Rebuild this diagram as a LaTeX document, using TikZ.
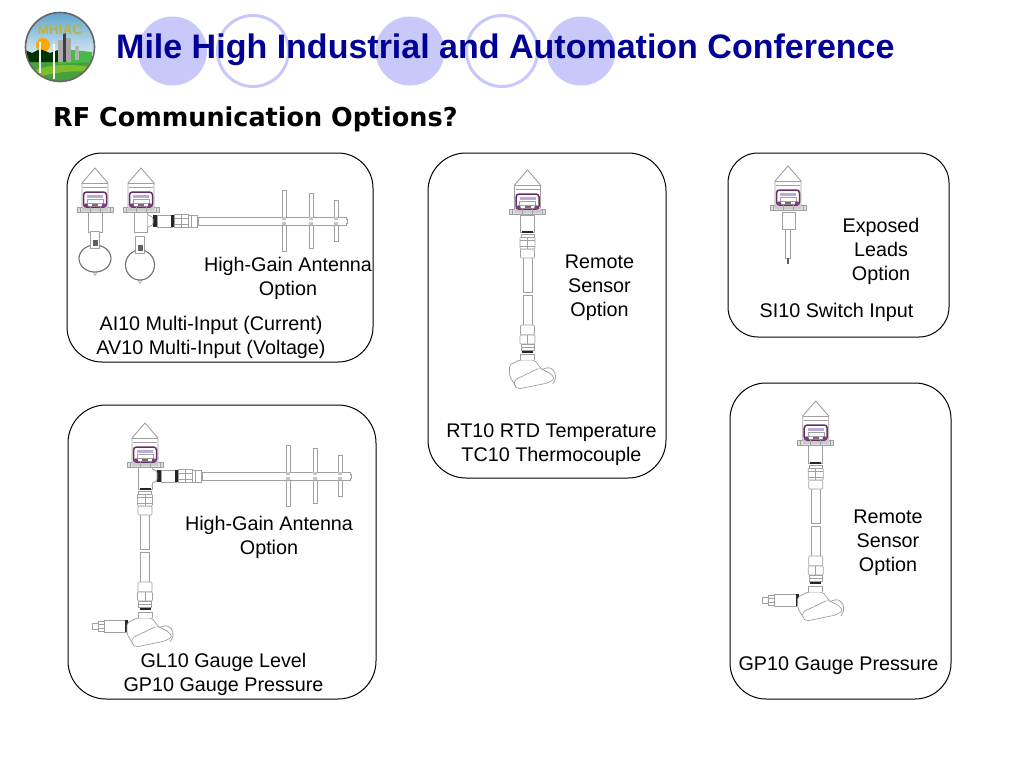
\documentclass[tikz,border=0pt]{standalone}
\usepackage{fontspec}
\setmainfont{Liberation Sans}
\newfontfamily\subfont[FakeStretch=0.98]{DejaVu Sans}
\usetikzlibrary{calc}
\definecolor{lav}{RGB}{200,200,250}
\definecolor{titleblue}{RGB}{0,0,150}
\definecolor{eq}{RGB}{160,160,160}
\definecolor{pur}{RGB}{125,60,125}
\definecolor{sky}{RGB}{95,165,205}
\definecolor{lawn}{RGB}{70,160,60}
\definecolor{gold}{RGB}{185,180,60}
\tikzset{
  x=1pt,y=-1pt,
  panel/.style={draw=black,line width=1pt,fill=white},
  lbl/.style={font=\fontsize{19.75}{24}\selectfont,align=center,inner sep=0pt,text=black},
  eqline/.style={draw=eq,line width=0.6pt,fill=white},
  eqdark/.style={fill=black!85,draw=none},
}
% head: apex at (#1,#2)
\newcommand{\headunit}[2]{%
  \begin{scope}[shift={(#1,#2)}]
    \draw[eqline,line width=0.9pt,line join=round] (0,0) -- (-13,15) -- (-13,39) -- (13,39) -- (13,15) -- cycle;
    \draw[eqline,line width=0.5pt] (-13,15) -- (13,15);
    \draw[eqline,line width=0.5pt] (-12,19) -- (12,19);
    \draw[draw=eq,fill=eq!35,line width=0.6pt] (-18,39) rectangle (18,44);
    \fill[eq!55] (-13,38) rectangle (13,43);
    \draw[draw=pur!80!black,fill=white,line width=1.5pt,rounded corners=3pt] (-11.5,24) rectangle (11.5,39);
    \fill[blue!30!pur!40] (-8,27) rectangle (8,29.5);
    \draw[eq,line width=0.4pt] (-8,31.5) rectangle (8,35);
    \fill[pur] (-9,37.5) circle (2.2) (9,37.5) circle (2.2);
    \fill[eq!70!black] (-3,36) rectangle (3,38);
    \draw[eq,line width=0.6pt] (-15,39) -- (-15,44) (15,39) -- (15,44) (-5,39) -- (-5,44) (5,39) -- (5,44);
  \end{scope}}
% antenna: #1 = centre x of device, #2 = boom centre y
\newcommand{\antennaunit}[2]{%
  \begin{scope}[shift={(#1,#2)}]
    \draw[eqline] (143-2,-31) rectangle (143+2,30);
    \draw[eqline] (170-2,-28) rectangle (170+2,27);
    \draw[eqline] (195-2,-21) rectangle (195+2,20);
    \draw[eqline] (57,-4) rectangle (205,4);
    \draw[eqline] (205,-2) -- (206,-2) -- (206,2) -- (205,2);
    \fill[eq!60] (141,-4) rectangle (145,-1) (141,1) rectangle (145,4)
                 (168,-4) rectangle (172,-1) (168,1) rectangle (172,4)
                 (193,-4) rectangle (197,-1) (193,1) rectangle (197,4);
    \draw[eqline] (16,-6) rectangle (31,6);
    \fill[eqdark] (12,-6) rectangle (16,6);
    \fill[eqdark] (30,-6) rectangle (33,6);
    \draw[eqline] (33,-6.5) rectangle (47,6.5);
    \draw[eqline] (33,-3) -- (47,-3) (33,3) -- (47,3) (40,-6.5) -- (40,6.5);
    \draw[eqline] (47,-6) rectangle (56,6);
    \draw[eqline] (50,-6) -- (50,6);
  \end{scope}}
% stem: #1 = centre x, #2 = y of top black band
\newcommand{\stemunit}[2]{%
  \begin{scope}[shift={(#1,#2)}]
    \draw[eqline] (-4.5,25) rectangle (4.5,60);
    \draw[eqline] (-4.5,63) rectangle (4.5,94);
    \draw[eqline,rounded corners=1pt] (-7,17) rectangle (7,26);
    \draw[eqline,rounded corners=1pt] (-7.5,5) rectangle (7.5,17);
    \draw[eqline] (0,5) -- (0,17) (-7.5,8) -- (7.5,8) (-7.5,14) -- (7.5,14);
    \fill[eqdark] (-5.5,-1) rectangle (5.5,1);
    \draw[eqline] (-6.5,2) rectangle (6.5,5);
    \draw[eqline,rounded corners=1pt] (-7,93) rectangle (7,103);
    \draw[eqline,rounded corners=1pt] (-7.5,103) rectangle (7.5,112);
    \draw[eqline] (0,103) -- (0,112);
    \draw[eqline] (-6.5,112) rectangle (6.5,115);
    \draw[eqline] (-6.5,115) rectangle (6.5,118);
    \fill[eqdark] (-5.5,119) rectangle (5.5,121);
  \end{scope}}
% sensor housing: #1 = centre x, #2 = y of lower black band
\newcommand{\housingunit}[2]{%
  \begin{scope}[shift={(#1,#2)}]
    \draw[eq,line width=0.9pt,dash pattern=on 1pt off 0.4pt] (12,20) .. controls (24,8) and (33,24) .. (25,32);
    \draw[eqline,line width=0.7pt,line join=round,rounded corners=2pt] (-18,13) -- (-8,8) -- (7,8) -- (13,16) -- (20,24) -- (11,30) -- (-10,36) -- (-14,31) -- (-18,24) -- cycle;
    \draw[eqline,line width=0.7pt,rounded corners=2pt] (-13,28) -- (12,16) -- (24,22) -- (27,27) -- (20,31) -- (-9,37) -- (-13,34) -- cycle;
    \draw[eqline] (-7,8) -- (-7,2) -- (7,2) -- (7,8);
  \end{scope}}
% side connector on housing: #1 = centre x, #2 = y of lower band
\newcommand{\sideunit}[2]{%
  \begin{scope}[shift={(#1,#2)}]
    \draw[eqline] (-41,10) rectangle (-19,22);
    \fill[eqdark] (-20,10) rectangle (-17,22);
    \draw[eqline] (-47,11) rectangle (-41,21);
    \draw[eqline] (-53,13) rectangle (-47,19);
    \draw[eqline] (-47,14) -- (-41,14) (-47,18) -- (-41,18);
  \end{scope}}
% clamp
\newcommand{\clampunit}[4]{%
  \draw[eqline] (#1-2,#2+#3) -- (#1+2,#2+#3) -- (#1,#2+#3+3.5) -- cycle;
  \draw[draw=eq!70!black,line width=1.1pt,fill=white] (#1,#2) ellipse (#4 and #3);
  \draw[eqline] (#1-4.5,#2-#3-14) rectangle (#1+4.5,#2-#3+3);
  \fill[eq!60!black] (#1-2.5,#2-#3-5) rectangle (#1+2.5,#2-#3+0.5);
}
\begin{document}
\begin{tikzpicture}
\useasboundingbox (0,0) rectangle (1024,768);
\fill[white] (0,0) rectangle (1024,768);
% decorative circles
\fill[lav] (172.5,51) circle (34.5);
\draw[lav,line width=3pt] (253,51) circle (35.5);
\fill[lav] (410,51) circle (34.5);
\draw[lav,line width=3pt] (502,51) circle (35.5);
\fill[lav] (581,51) circle (34.5);
% logo
\begin{scope}
  \clip (60,47) circle (34);
  \fill[top color=sky,bottom color=sky!25] (25,12) rectangle (95,55);
  \fill[lawn] (25,58) rectangle (95,82);
  \fill[lawn!70!yellow] (25,74) .. controls (50,62) and (75,64) .. (95,68) -- (95,72) .. controls (70,70) and (50,72) .. (25,82) -- cycle;
  \fill[orange!70!yellow] (43,45) circle (7);
  \fill[black!80!green] (25,50) -- (32,53) -- (40,49) -- (50,53) -- (58,50) -- (58,62) -- (25,62) -- cycle;
  \fill[gray!55!green] (58,52) -- (72,50) -- (92,52) -- (92,62) -- (58,64) -- cycle;
  \fill[gray!65] (58,40) rectangle (63,62);
  \fill[gray!50!black] (63,33) rectangle (66,62);
  \fill[gray!70] (66,38) rectangle (71,62);
  \fill[gray!60] (75,46) rectangle (79,60);
  \fill[white] (39,42) rectangle (41,73);
  \fill[white] (53,44) rectangle (55,79);
\end{scope}
\node[inner sep=0pt,font=\bfseries\fontsize{13.5}{14}\selectfont,text=gold] (logotext) at (60,30) {MHIAC};
\draw[black!60,line width=1.6pt] (60,47) circle (34.5);
% title
\node[anchor=base west,inner sep=0pt,font=\bfseries\fontsize{34}{36}\selectfont,text=titleblue] (title) at (116,59) {Mile High Industrial and Automation Conference};
\node[anchor=base west,inner sep=0pt,font=\subfont\bfseries\fontsize{26}{28}\selectfont,text=black] (subtitle) at (53,126) {RF Communication Options?};
% panels
\draw[panel,rounded corners=35pt] (67,153) rectangle (373,362);
\draw[panel,rounded corners=38pt] (428,153) rectangle (666,478);
\draw[panel,rounded corners=30pt] (728,153) rectangle (949,337);
\draw[panel,rounded corners=36pt] (730,383) rectangle (951,699);
\draw[panel,rounded corners=38pt] (68,405) rectangle (376,699);
% AI10 device 1
\draw[eqline] (88,212) rectangle (102,232);
\clampunit{95}{258.5}{13.5}{16}
\headunit{95}{168}
% AI10 device 2 with antenna
\antennaunit{141}{221}
\draw[eqline] (134.5,212) rectangle (147.5,232);
\draw[eqline,rounded corners=3pt] (147.5,214) -- (147.5,216) -- (153,216) -- (153,226) -- (147.5,226) -- (147.5,230);
\clampunit{140}{265}{15}{14.5}
\headunit{141}{168}
% RT10
\draw[eqline] (520.5,215) rectangle (534.5,232);
\stemunit{527.5}{232}
\housingunit{527.5}{352}
\headunit{527.5}{170}
% SI10
\draw[eqline] (782,212) rectangle (795,229);
\draw[eqline] (785.5,229) rectangle (790.5,258);
\draw[eq!60!black,line width=1.2pt] (788,258) -- (788,264);
\headunit{788}{166}
% GP10
\draw[eqline] (808.7,445) rectangle (822.7,463);
\stemunit{815.7}{463}
\sideunit{815.7}{584}
\housingunit{815.7}{584}
\headunit{815.7}{401}
% GL10
\antennaunit{145}{476}
\draw[eqline] (138,463) rectangle (152,489);
\draw[eqline,rounded corners=3pt] (152,465) -- (152,470) -- (157,470) -- (157,482) -- (152,482) -- (152,487);
\stemunit{145}{489}
\sideunit{145}{610}
\housingunit{145}{610}
\headunit{145}{423}
% labels
\node[lbl] (l1) at (288,278) {High-Gain Antenna\\Option};
\node[lbl] (l2) at (211,337) {AI10 Multi-Input (Current)\\AV10 Multi-Input (Voltage)};
\node[lbl] (l3) at (599.5,287.5) {Remote\\Sensor\\Option};
\node[lbl] (l4) at (551.5,445) {RT10 RTD Temperature\\TC10 Thermocouple};
\node[lbl] (l5) at (881,251.5) {Exposed\\Leads\\Option};
\node[lbl] (l6) at (836.5,312) {SI10 Switch Input};
\node[lbl] (l7) at (888,542.5) {Remote\\Sensor\\Option};
\node[lbl] (l8) at (838.5,666) {GP10 Gauge Pressure};
\node[lbl] (l9) at (269,537) {High-Gain Antenna\\Option};
\node[lbl] (l10) at (223.5,674.5) {GL10 Gauge Level\\GP10 Gauge Pressure};
\end{tikzpicture}
\end{document}
